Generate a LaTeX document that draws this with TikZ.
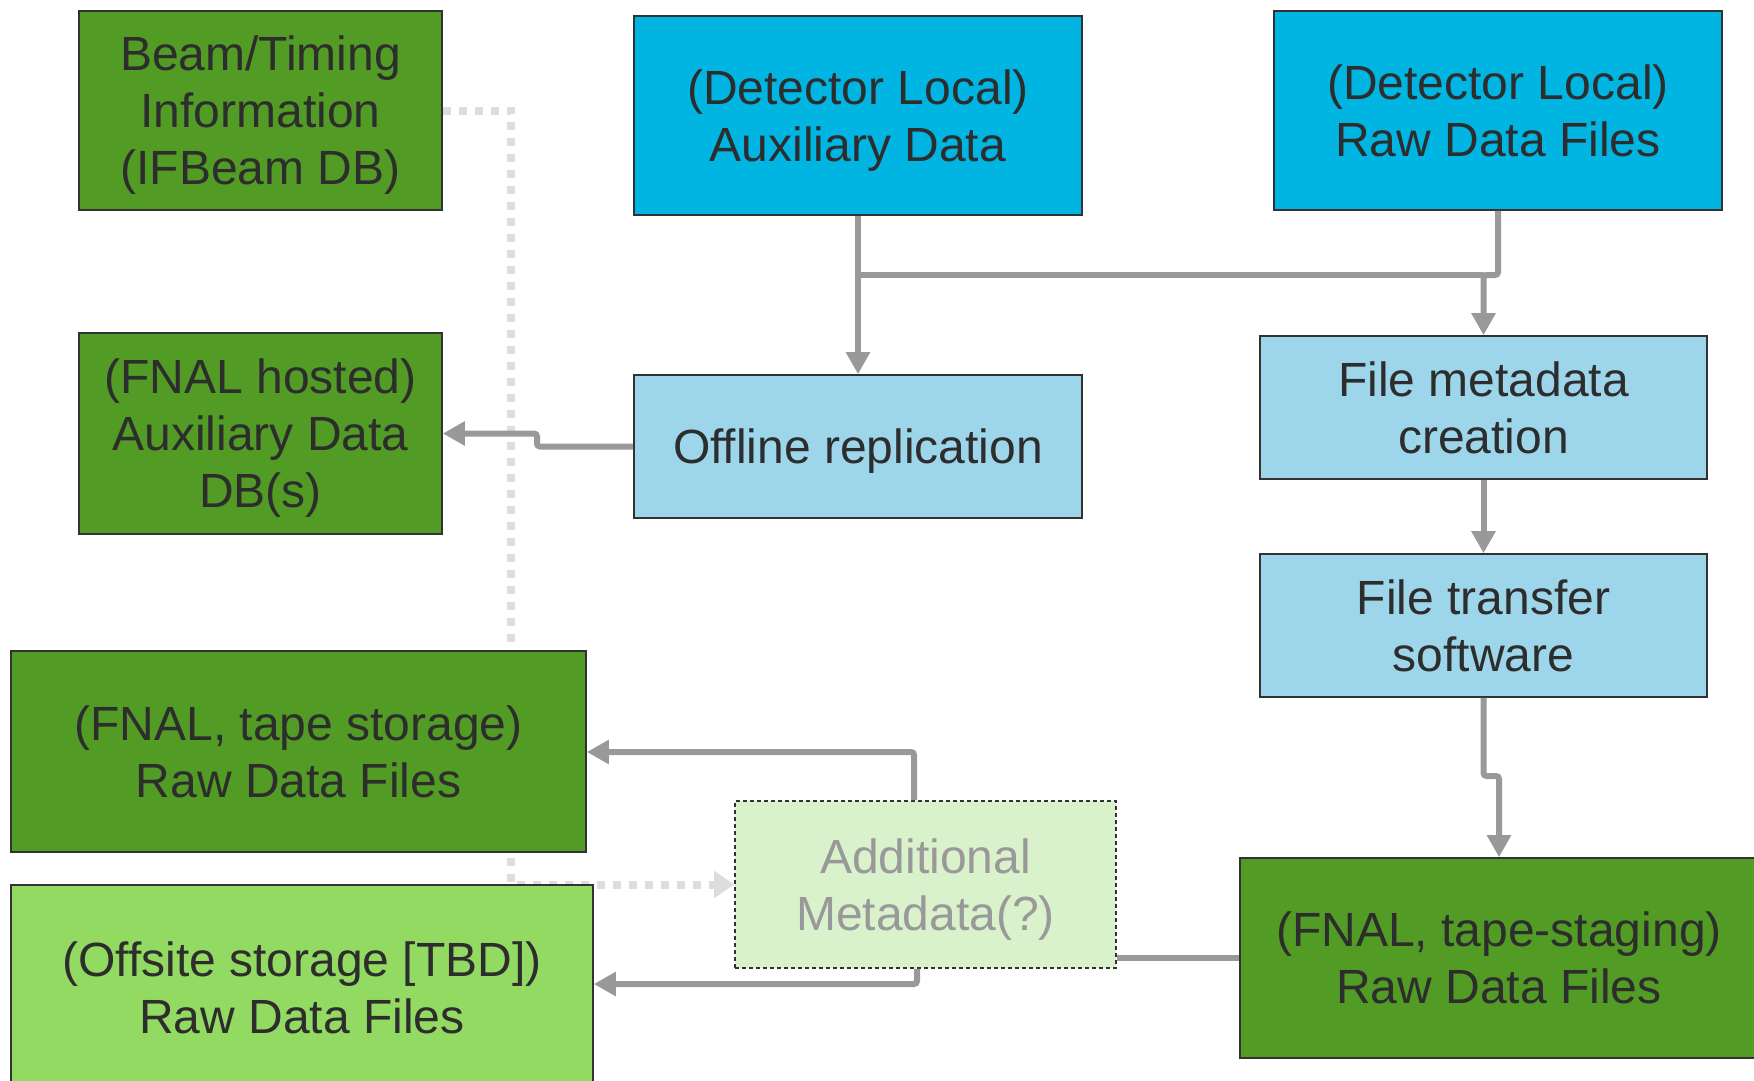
\documentclass[tikz,border=0pt]{standalone}
\usepackage{fontspec}
\setmainfont{Liberation Sans}
\usetikzlibrary{arrows.meta,backgrounds}
\definecolor{dgreen}{RGB}{82,155,37}
\definecolor{lgreen}{RGB}{146,218,98}
\definecolor{pgreen}{RGB}{218,242,204}
\definecolor{bblue}{RGB}{0,181,226}
\definecolor{lblue}{RGB}{157,214,234}
\definecolor{txt}{RGB}{45,45,45}
\definecolor{conncol}{RGB}{153,153,153}
\definecolor{dotcol}{RGB}{221,221,221}
\definecolor{bord}{RGB}{50,50,50}
\begin{document}
\begin{tikzpicture}[x=1pt,y=-1pt,
 box/.style={draw=bord, line width=1.6pt, inner sep=0pt, align=center, text=txt, font=\fontsize{48}{57}\selectfont},
 low/.style={text depth=0pt},
 conn/.style={draw=conncol, line width=6pt, rounded corners=3pt},
 arr/.style={conn, -{Triangle[width=23pt,length=22pt]}},
 dots/.style={draw=dotcol, line width=8pt, dash pattern=on 8pt off 8pt, -{Triangle[width=26pt,length=20pt]}}]
\useasboundingbox (0,0) rectangle (1754,1081);
% boxes
\node[box, low, fill=dgreen, minimum width=363pt, minimum height=199pt] (beam) at (260.5,110.5) {Beam/Timing\\Information\\(IFBeam DB)};
\node[box, low, fill=bblue, minimum width=448pt, minimum height=199pt] (auxDet) at (858,115.5) {(Detector Local)\\Auxiliary Data};
\node[box, low, fill=bblue, minimum width=448pt, minimum height=199pt] (rawDet) at (1498,110.5) {(Detector Local)\\Raw Data Files};
\node[box, low, fill=dgreen, minimum width=363pt, minimum height=201pt] (fnalAux) at (260.5,433.5) {(FNAL hosted)\\Auxiliary Data\\DB(s)};
\node[box, low, fill=lblue, minimum width=448pt, minimum height=143pt] (offline) at (858,446.5) {Offline replication};
\node[box, fill=lblue, minimum width=447pt, minimum height=143pt] (meta) at (1483.5,407.5) {File metadata\\creation};
\node[box, fill=lblue, minimum width=447pt, minimum height=143pt] (transfer) at (1483.5,625.5) {File transfer\\software};
\node[box, fill=dgreen, minimum width=575pt, minimum height=201pt] (tape) at (298.5,751.5) {(FNAL, tape storage)\\Raw Data Files};
\node[box, fill=lgreen, minimum width=582pt, minimum height=205pt] (offsite) at (302,987.5) {(Offsite storage [TBD])\\Raw Data Files};
\node[box, low, fill=pgreen, dashed, dash pattern=on 4pt off 3pt, text=conncol, minimum width=381pt, minimum height=167pt] (addl) at (925.5,884.5) {Additional\\Metadata(?)};
\node[box, fill=dgreen, minimum width=518pt, minimum height=200pt] (staging) at (1499,958) {(FNAL, tape-staging)\\Raw Data Files};
% background: white and dotted connector
\begin{scope}[on background layer]
\fill[white] (0,0) rectangle (1754,1081);
\coordinate (j4) at (511,0);
\draw[dots] (beam.east) -- (beam.east -| j4) -- (j4 |- addl.west) -- (addl.west);
\end{scope}
% connectors
\draw[arr] (auxDet.south) -- (offline.north);
\coordinate (j1) at (1498,275);
\draw[arr] (rawDet.south) -- (j1) -| (meta.north);
\draw[conn] (auxDet.south |- j1) -- (meta.north |- j1);
\coordinate (j2) at (537,446.5);
\draw[arr] (offline.west) -- (j2) |- (fnalAux.east);
\draw[arr] (meta.south) -- (transfer.north);
\coordinate (j3) at (0,776);
\draw[arr] (transfer.south) -- (transfer.south |- j3) -| (staging.north);
\draw[conn] (staging.west) -- (addl.east |- staging.west);
\coordinate (c1) at (914,752);
\draw[arr] (c1 |- addl.north) -- (c1) -- (c1 -| tape.east);
\coordinate (c2) at (917,984);
\draw[arr] (c2 |- addl.south) -- (c2) -- (c2 -| offsite.east);
\end{tikzpicture}
\end{document}
